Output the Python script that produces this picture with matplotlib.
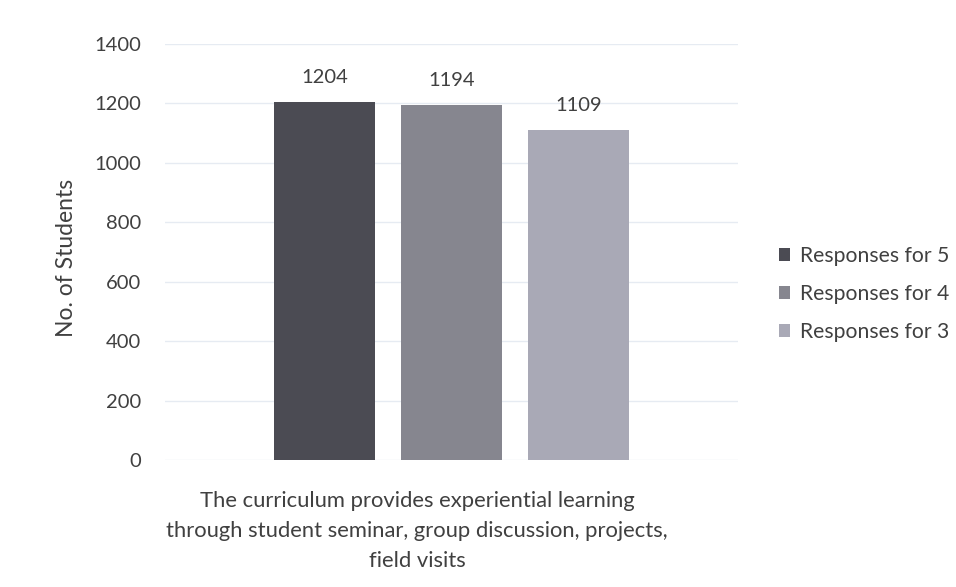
import matplotlib
matplotlib.use("Agg")
import matplotlib.pyplot as plt
from matplotlib.patches import Patch

series = ["Responses for 5", "Responses for 4", "Responses for 3"]
values = [1204, 1194, 1109]
colors = ["#4b4b53", "#86868f", "#a9a9b6"]
yticks = [0, 200, 400, 600, 800, 1000, 1200, 1400]
category = "The curriculum provides experiential learning\nthrough student seminar, group discussion, projects,\nfield visits"

plt.rcParams['font.family'] = ['Lato', 'DejaVu Sans']
txt = "#404040"

fig = plt.figure(figsize=(9.56, 5.87), dpi=100)
ax = fig.add_axes([165/956, 127/587, 573/956, 416/587])
x = list(range(len(values)))
ax.bar(x, values, width=0.79, color=colors, zorder=3)
for xi, v in zip(x, values):
    ax.annotate(str(v), (xi, v), xytext=(0, 18), textcoords="offset points",
                ha="center", va="center", fontsize=14.5, color=txt)
ax.set_xlim(-1.256, 3.256)
ax.set_ylim(0, 1400)
ax.set_yticks(yticks)
ax.set_yticklabels([str(t) for t in yticks], fontsize=14.5, color=txt)
ax.tick_params(axis='y', length=0, pad=17)
ax.set_xticks([])
for s in ax.spines.values():
    s.set_visible(False)
ax.yaxis.grid(True, color="#e6ebf2", linewidth=1, zorder=0)
ax.set_ylabel("No. of Students", fontsize=16.5, color=txt)
ax.yaxis.set_label_coords((77-165)/573, (460-258)/416)
fig.text(417/956, 1-531/587, category, ha="center", va="center",
         fontsize=15.8, color=txt, linespacing=1.6)

handles = [Patch(facecolor=c, edgecolor='none') for c in colors]
fig.legend(handles, series, loc="center left", bbox_to_anchor=(779/956, 1-294/587),
           frameon=False, fontsize=15.2, handlelength=0.53, handleheight=0.53,
           handletextpad=0.45, labelspacing=0.85, borderpad=0, borderaxespad=0,
           labelcolor=txt)
fig.savefig("out.png", dpi=100, facecolor="white")
